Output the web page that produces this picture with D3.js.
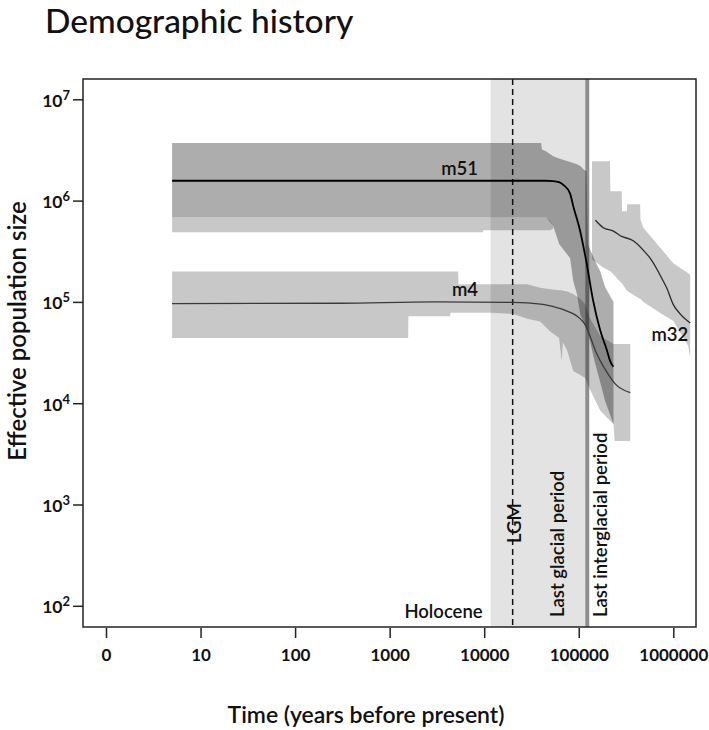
<!DOCTYPE html>
<html>
<head>
<meta charset="utf-8">
<script src="https://cdn.jsdelivr.net/npm/d3@7"></script>
<style>
  body { margin: 0; background: #fff; }
  svg { display: block; font-family: Lato, "Open Sans", sans-serif; }
</style>
</head>
<body>
<svg id="chart" width="709" height="730"></svg>
<script>
// axis ticks
const xTicks = [1, 10, 100, 1000, 10000, 100000, 1000000];
const xTickLabels = ['0', '10', '100', '1000', '10000', '100000', '1000000'];
const yTicks = [1e2, 1e3, 1e4, 1e5, 1e6, 1e7];
const yTickExponents = ['2', '3', '4', '5', '6', '7'];

// climate periods (years before present)
const holoceneStart = 11700;
const glacialEnd = 117000;
const lgmTime = 20000;
const interglacialTime = 123000;

// median Ne curves: [time, Ne]
const m51Line = [
  [5, 1.57e6], [45000, 1.57e6], [53700, 1.56e6], [62000, 1.52e6], [68700, 1.43e6],
  [80800, 1.18e6], [87800, 8.7e5], [103000, 5.1e5], [121000, 2.42e5], [141600, 1.04e5],
  [168000, 5.3e4], [198000, 3.35e4], [215000, 2.6e4], [232000, 2.29e4]
];
const m4Line = [
  [5, 9.6e4], [300, 9.7e4], [3000, 1.0e5], [20000, 9.9e4], [28500, 9.8e4], [46000, 9.3e4],
  [73000, 8.2e4], [104000, 6.8e4], [112000, 6.3e4], [125000, 5.2e4], [150000, 3.3e4],
  [200000, 2.0e4], [243000, 1.55e4], [351000, 1.27e4]
];
const m32Line = [
  [1.5e5, 6.4e5], [1.82e5, 5.4e5], [2.33e5, 5.0e5], [2.75e5, 4.5e5], [3.8e5, 4.0e5],
  [5.25e5, 2.96e5], [5.66e5, 2.72e5], [7.84e5, 1.6e5], [8.5e5, 1.38e5], [1.0e6, 9.4e4],
  [1.2e6, 7.5e4], [1.51e6, 6.2e4]
];

// HPD bands: [time, lower, upper]
const m51Hpd = [
  [5, 6.85e5, 3.71e6], [40000, 6.85e5, 3.71e6], [40800, 6.85e5, 3.2e6], [45300, 6.85e5, 3.05e6],
  [53700, 5.6e5, 2.74e6], [62000, 3.73e5, 2.6e6], [81000, 2.7e5, 2.4e6], [87500, 1.6e5, 2.35e6],
  [95700, 1.2e5, 2.29e6], [104000, 7.4e4, 2.2e6], [112000, 6.5e4, 2.04e6], [121000, 5.5e4, 1.95e6],
  [125000, 5.0e4, 3.7e5], [147000, 2.6e4, 2.6e5], [169000, 1.6e4, 2.0e5], [190000, 1.05e4, 1.4e5],
  [233000, 6.2e3, 1.0e5]
];
const m51Outer = [
  [5, 4.87e5, 6.85e5], [9700, 4.87e5, 6.85e5], [9800, 5.1e5, 6.85e5], [45300, 5.1e5, 6.85e5],
  [50000, 5.1e5, 6.3e5], [53700, 5.3e5, 5.6e5]
];
const m4Hpd = [
  [5, 4.4e4, 2.0e5], [1570, 4.4e4, 2.0e5], [1580, 7.2e4, 2.0e5], [4370, 7.2e4, 2.0e5],
  [4400, 7.8e4, 2.0e5], [5300, 7.8e4, 2.0e5], [5350, 7.8e4, 1.49e5], [11600, 7.8e4, 1.49e5],
  [20400, 7.6e4, 1.49e5], [28500, 6.8e4, 1.49e5], [39000, 6.4e4, 1.38e5], [50000, 5.1e4, 1.33e5],
  [62000, 4.4e4, 1.3e5], [66000, 2.6e4, 1.3e5], [68000, 4.0e4, 1.29e5], [75500, 3.3e4, 1.27e5],
  [87500, 2.08e4, 1.2e5], [104000, 1.9e4, 1.07e5], [117000, 1.77e4, 9.5e4], [130000, 1.4e4, 7.0e4],
  [169000, 8.4e3, 4.6e4], [233000, 6.2e3, 3.84e4], [240000, 4.24e3, 3.84e4], [351000, 4.24e3, 3.84e4]
];
const m32Hpd = [
  [1.38e5, 2.64e5, 2.45e6], [1.83e5, 2.17e5, 2.45e6], [2.14e5, 2.01e5, 2.45e6],
  [2.16e5, 2.01e5, 1.24e6], [2.85e5, 1.53e5, 1.24e6], [2.87e5, 1.53e5, 7.85e5],
  [3.23e5, 1.28e5, 7.85e5], [3.25e5, 1.28e5, 9.2e5], [4.46e5, 1.07e5, 9.2e5],
  [4.5e5, 1.07e5, 6.5e5], [4.82e5, 1.0e5, 5.38e5], [7.28e5, 7.77e4, 3.42e5],
  [1.0e6, 6.46e4, 2.41e5], [1.44e6, 3.67e4, 1.92e5], [1.51e6, 2.81e4, 1.85e5]
];

const frame = { left: 83, right: 696, top: 79, bottom: 627 };

const svg = d3.select('#chart');

const x = d3.scaleLog().domain([1, 1e6]).range([106, 673.3]);
const y = d3.scaleLog().domain([1e2, 1e7]).range([605.8, 99.3]);

svg.append('text')
  .attr('x', 45)
  .attr('y', 33)
  .attr('font-size', 33.5)
  .attr('font-weight', 500)
  .attr('fill', '#111')
  .text('Demographic history');

const plot = svg.append('g');

// glacial period background
plot.append('rect')
  .attr('x', x(holoceneStart))
  .attr('y', frame.top)
  .attr('width', x(glacialEnd) - x(holoceneStart))
  .attr('height', frame.bottom - frame.top)
  .attr('fill', '#e3e3e3');

// last interglacial marker
plot.append('line')
  .attr('x1', x(interglacialTime)).attr('x2', x(interglacialTime))
  .attr('y1', frame.top).attr('y2', frame.bottom)
  .attr('stroke', '#8e8e8e')
  .attr('stroke-width', 4);

const area = d3.area()
  .x((d) => x(d[0]))
  .y0((d) => y(d[1]))
  .y1((d) => y(d[2]));

const bands = [
  { data: m4Hpd, opacity: 0.215 },
  { data: m32Hpd, opacity: 0.215 },
  { data: m51Outer, opacity: 0.215 },
  { data: m51Hpd, opacity: 0.32 }
];
plot.selectAll('path.band')
  .data(bands)
  .join('path')
  .attr('class', 'band')
  .attr('d', (d) => area(d.data))
  .attr('fill', '#000')
  .attr('fill-opacity', (d) => d.opacity);

// LGM
plot.append('line')
  .attr('x1', x(lgmTime)).attr('x2', x(lgmTime))
  .attr('y1', frame.top).attr('y2', frame.bottom)
  .attr('stroke', '#111')
  .attr('stroke-width', 1.5)
  .attr('stroke-dasharray', '6,4');

const line = d3.line()
  .x((d) => x(d[0]))
  .y((d) => y(d[1]))
  .curve(d3.curveMonotoneX);

const series = [
  { data: m4Line, color: '#3a3a3a', width: 1.3 },
  { data: m32Line, color: '#2a2a2a', width: 1.3 },
  { data: m51Line, color: '#000', width: 1.8 }
];
plot.selectAll('path.median')
  .data(series)
  .join('path')
  .attr('class', 'median')
  .attr('d', (d) => line(d.data))
  .attr('fill', 'none')
  .attr('stroke', (d) => d.color)
  .attr('stroke-width', (d) => d.width)
  .attr('stroke-linejoin', 'round');

// series labels
const labels = plot.append('g')
  .attr('font-size', 18.5)
  .attr('font-weight', 600)
  .attr('fill', '#111');
labels.append('text')
  .attr('x', x(8600)).attr('y', y(m51Line[0][1]) - 6)
  .attr('text-anchor', 'end')
  .text('m51');
labels.append('text')
  .attr('x', x(8600)).attr('y', y(m4Line[0][1]) - 8)
  .attr('text-anchor', 'end')
  .text('m4');
labels.append('text')
  .attr('x', x(1.44e6)).attr('y', y(m32Line[m32Line.length - 1][1]) + 18)
  .attr('text-anchor', 'end')
  .text('m32');

// period labels
const periods = plot.append('g')
  .attr('font-size', 18.5)
  .attr('font-weight', 600)
  .attr('fill', '#111');
periods.append('text')
  .attr('x', x(holoceneStart) - 8)
  .attr('y', 618)
  .attr('text-anchor', 'end')
  .text('Holocene');
periods.append('text')
  .attr('transform', `translate(${x(lgmTime) + 8},543) rotate(-90)`)
  .text('LGM');
periods.append('text')
  .attr('transform', `translate(${x(glacialEnd) - 21},617) rotate(-90)`)
  .text('Last glacial period');
periods.append('text')
  .attr('transform', `translate(${x(interglacialTime) + 20},617) rotate(-90)`)
  .text('Last interglacial period');

// frame
svg.append('rect')
  .attr('x', frame.left)
  .attr('y', frame.top)
  .attr('width', frame.right - frame.left)
  .attr('height', frame.bottom - frame.top)
  .attr('fill', 'none')
  .attr('stroke', '#222')
  .attr('stroke-width', 1.5);

// x axis
const xAxis = svg.append('g')
  .attr('transform', `translate(0,${frame.bottom + 1})`)
  .call(d3.axisBottom(x)
    .tickValues(xTicks)
    .tickFormat((d, i) => xTickLabels[i])
    .tickSize(10)
    .tickPadding(11));
xAxis.select('.domain').remove();
xAxis.selectAll('line').attr('stroke', '#222').attr('stroke-width', 1.5);
xAxis.selectAll('text')
  .attr('font-family', 'Lato, sans-serif')
  .attr('font-size', 17)
  .attr('font-weight', 700)
  .attr('fill', '#111');

// y axis
const yAxis = svg.append('g')
  .attr('transform', `translate(${frame.left},0)`)
  .call(d3.axisLeft(y)
    .tickValues(yTicks)
    .tickFormat(() => '')
    .tickSize(10)
    .tickPadding(3));
yAxis.select('.domain').remove();
yAxis.selectAll('line').attr('stroke', '#222').attr('stroke-width', 1.5);
yAxis.selectAll('.tick text')
  .attr('font-family', 'Lato, sans-serif')
  .attr('font-size', 17.5)
  .attr('font-weight', 700)
  .attr('fill', '#111')
  .attr('dy', '0.4em')
  .each(function (d, i) {
    const t = d3.select(this);
    t.append('tspan').text('10');
    t.append('tspan')
      .attr('font-size', 13)
      .attr('dy', '-0.55em')
      .text(yTickExponents[i]);
  });

// axis titles
svg.append('text')
  .attr('x', 366)
  .attr('y', 723)
  .attr('text-anchor', 'middle')
  .attr('font-size', 23)
  .attr('font-weight', 600)
  .attr('fill', '#111')
  .text('Time (years before present)');

svg.append('text')
  .attr('transform', 'translate(26,331) rotate(-90)')
  .attr('text-anchor', 'middle')
  .attr('font-size', 24)
  .attr('font-weight', 600)
  .attr('fill', '#111')
  .text('Effective population size');
</script>
</body>
</html>
